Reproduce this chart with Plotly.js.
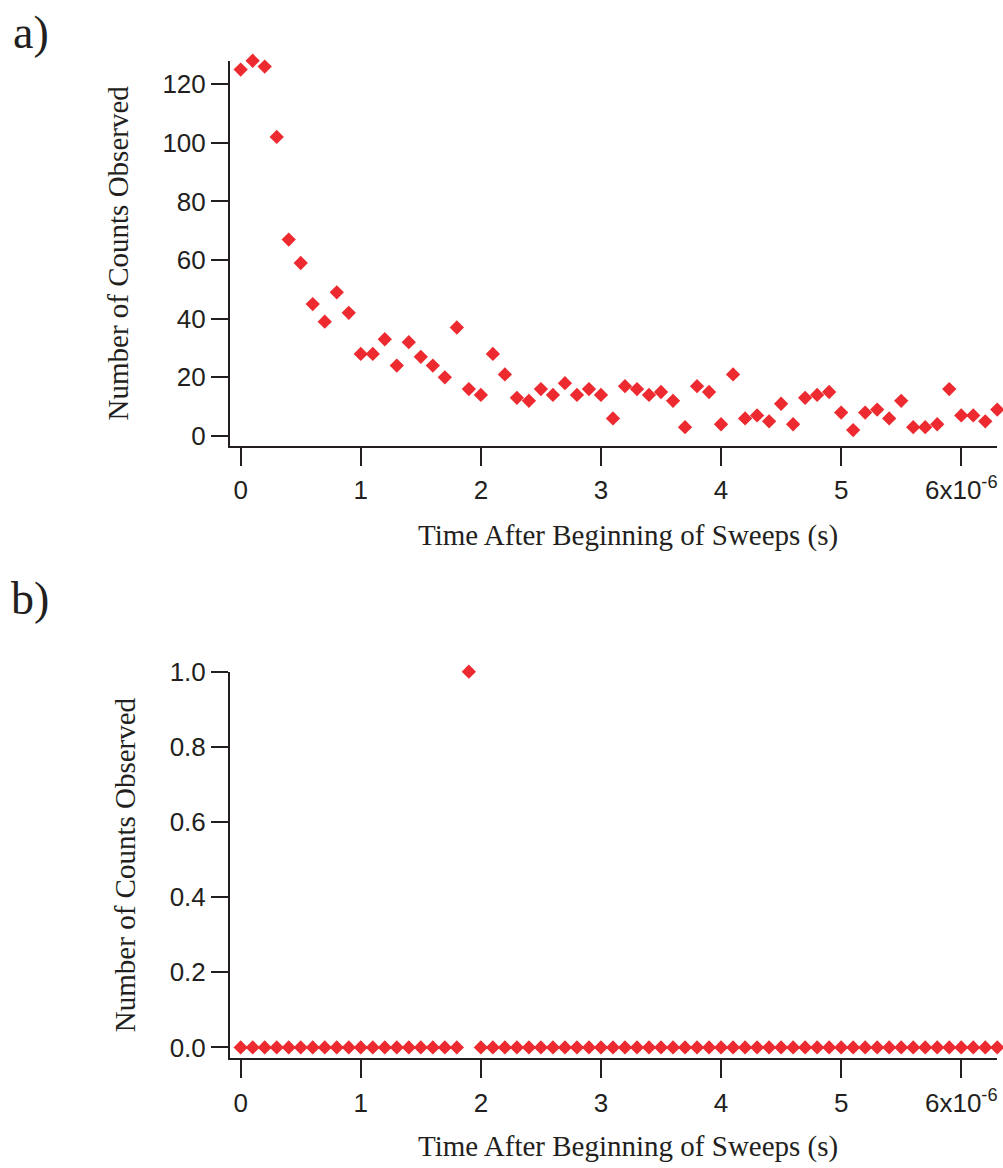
<!DOCTYPE html>
<html>
<head>
<meta charset="utf-8">
<script src="https://cdn.plot.ly/plotly-3.0.1.min.js"></script>
<style>html,body{margin:0;padding:0;background:#fff;}#chart{width:1003px;height:1168px;}</style>
</head>
<body>
<div id="chart"></div>
<script>
// Time (s) of each bin
var timeS = [0.0e-6,0.1e-6,0.2e-6,0.3e-6,0.4e-6,0.5e-6,0.6e-6,0.7e-6,0.8e-6,0.9e-6,
  1.0e-6,1.1e-6,1.2e-6,1.3e-6,1.4e-6,1.5e-6,1.6e-6,1.7e-6,1.8e-6,1.9e-6,
  2.0e-6,2.1e-6,2.2e-6,2.3e-6,2.4e-6,2.5e-6,2.6e-6,2.7e-6,2.8e-6,2.9e-6,
  3.0e-6,3.1e-6,3.2e-6,3.3e-6,3.4e-6,3.5e-6,3.6e-6,3.7e-6,3.8e-6,3.9e-6,
  4.0e-6,4.1e-6,4.2e-6,4.3e-6,4.4e-6,4.5e-6,4.6e-6,4.7e-6,4.8e-6,4.9e-6,
  5.0e-6,5.1e-6,5.2e-6,5.3e-6,5.4e-6,5.5e-6,5.6e-6,5.7e-6,5.8e-6,5.9e-6,
  6.0e-6,6.1e-6,6.2e-6,6.3e-6];

// Panel a) counts
var countsA = [125,128,126,102,67,59,45,39,49,42,
  28,28,33,24,32,27,24,20,37,16,
  14,28,21,13,12,16,14,18,14,16,
  14,6,17,16,14,15,12,3,17,15,
  4,21,6,7,5,11,4,13,14,15,
  8,2,8,9,6,12,3,3,4,16,
  7,7,5,9];

// Panel b) counts
var timeB = [0.0e-6,0.1e-6,0.2e-6,0.3e-6,0.4e-6,0.5e-6,0.6e-6,0.7e-6,0.8e-6,0.9e-6,
  1.0e-6,1.1e-6,1.2e-6,1.3e-6,1.4e-6,1.5e-6,1.6e-6,1.7e-6,1.8e-6,1.9e-6,
  2.0e-6,2.1e-6,2.2e-6,2.3e-6,2.4e-6,2.5e-6,2.6e-6,2.7e-6,2.8e-6,2.9e-6,
  3.0e-6,3.1e-6,3.2e-6,3.3e-6,3.4e-6,3.5e-6,3.6e-6,3.7e-6,3.8e-6,3.9e-6,
  4.0e-6,4.1e-6,4.2e-6,4.3e-6,4.4e-6,4.5e-6,4.6e-6,4.7e-6,4.8e-6,4.9e-6,
  5.0e-6,5.1e-6,5.2e-6,5.3e-6,5.4e-6,5.5e-6,5.6e-6,5.7e-6,5.8e-6,5.9e-6,
  6.0e-6,6.1e-6,6.2e-6,6.3e-6];
var countsB = [0,0,0,0,0,0,0,0,0,0,
  0,0,0,0,0,0,0,0,0,1,
  0,0,0,0,0,0,0,0,0,0,
  0,0,0,0,0,0,0,0,0,0,
  0,0,0,0,0,0,0,0,0,0,
  0,0,0,0,0,0,0,0,0,0,
  0,0,0,0];

// Tick labels
var xTickVals = [0, 1e-6, 2e-6, 3e-6, 4e-6, 5e-6, 6e-6];
var xTickText = ['0','1','2','3','4','5','6x10<sup>-6</sup>'];
var yTickValsA = [0,20,40,60,80,100,120];
var yTickTextA = ['0','20','40','60','80','100','120'];
var yTickValsB = [0,0.2,0.4,0.6,0.8,1.0];
var yTickTextB = ['0.0','0.2','0.4','0.6','0.8','1.0'];

var xTitle = 'Time After Beginning of Sweeps (s)';
var yTitle = 'Number of Counts Observed';

var red = '#ec2a2f';
var ink = '#231f20';
var markerStyle = {symbol:'diamond', size:11, color:red, line:{width:0}};

var traces = [
  {x: timeS, y: countsA, type:'scatter', mode:'markers', marker: markerStyle,
   xaxis:'x', yaxis:'y', cliponaxis:false, hoverinfo:'x+y'},
  {x: timeB, y: countsB, type:'scatter', mode:'markers', marker: markerStyle,
   xaxis:'x2', yaxis:'y2', cliponaxis:false, hoverinfo:'x+y'}
];

var tickFont = {family:'Liberation Sans, Arial, sans-serif', size:26, color:ink};
var serif = 'Liberation Serif, Times New Roman, serif';
var titleFont = {family:serif, size:29, color:ink};

function xAxis(anchor){
  return {
    domain:[0.2293, 0.9943], anchor:anchor,
    range:[-0.089e-6, 6.30e-6],
    showgrid:false, zeroline:false,
    showline:true, linecolor:ink, linewidth:2,
    ticks:'outside', ticklen:18, tickwidth:2, tickcolor:ink,
    tickmode:'array', tickvals:xTickVals, ticktext:xTickText,
    tickfont:tickFont, ticklabelstandoff:2,
    automargin:false, fixedrange:true
  };
}
function yAxis(anchor, dom, rng, tv, tt){
  return {
    domain:dom, anchor:anchor, range:rng,
    showgrid:false, zeroline:false,
    showline:true, linecolor:ink, linewidth:2,
    ticks:'outside', ticklen:17, tickwidth:2, tickcolor:ink,
    tickmode:'array', tickvals:tv, ticktext:tt,
    tickfont:tickFont,
    title:{text:yTitle, font:titleFont, standoff:25},
    automargin:false, fixedrange:true
  };
}

var layout = {
  width:1003, height:1168,
  margin:{l:0, r:0, t:0, b:0},
  paper_bgcolor:'#ffffff', plot_bgcolor:'#ffffff',
  showlegend:false,
  xaxis: xAxis('y'),
  yaxis: yAxis('x', [0.6182, 0.9480], [-3.4, 128], yTickValsA, yTickTextA),
  xaxis2: xAxis('y2'),
  yaxis2: yAxis('x2', [0.0939, 0.4249], [-0.029, 1.0], yTickValsB, yTickTextB),
  annotations:[
    {text:xTitle, xref:'paper', yref:'paper', x:628/1003, y:1-535/1168, xanchor:'center', yanchor:'middle',
     showarrow:false, font:titleFont},
    {text:xTitle, xref:'paper', yref:'paper', x:628/1003, y:1-1146/1168, xanchor:'center', yanchor:'middle',
     showarrow:false, font:titleFont},
    {text:'a)', xref:'paper', yref:'paper', x:11/1003, y:1-33/1168, xanchor:'left', yanchor:'middle',
     showarrow:false, font:{family:serif, size:46, color:ink}},
    {text:'b)', xref:'paper', yref:'paper', x:9/1003, y:1-598/1168, xanchor:'left', yanchor:'middle',
     showarrow:false, font:{family:serif, size:46, color:ink}}
  ]
};

Plotly.newPlot('chart', traces, layout, {displayModeBar:false, staticPlot:true});
</script>
</body>
</html>
